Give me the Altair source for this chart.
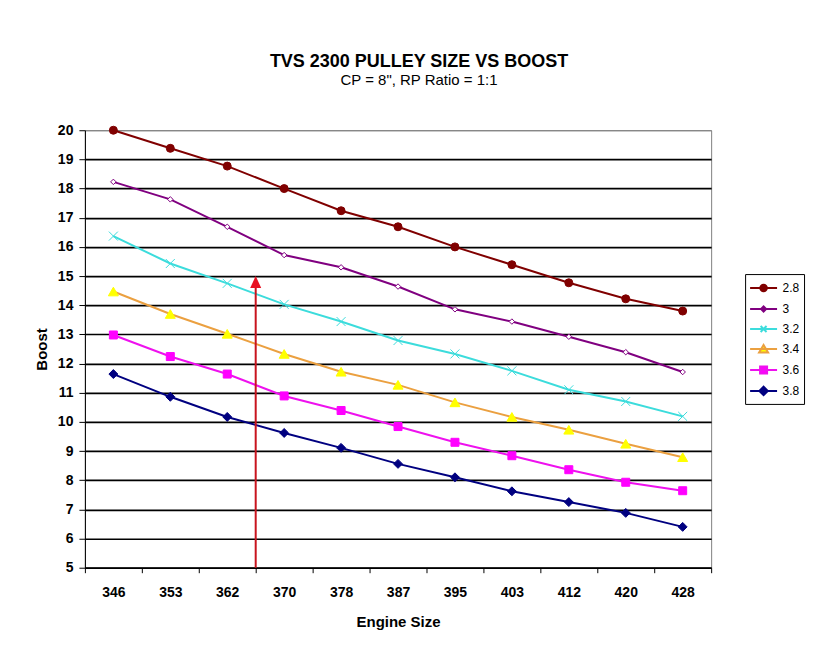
import altair as alt
import pandas as pd

# ---------------- data ----------------
engine_sizes = ["346", "353", "362", "370", "378", "387", "395", "403", "412", "420", "428"]
pulleys = ["2.8", "3", "3.2", "3.4", "3.6", "3.8"]

boost_28 = [20.0, 19.38, 18.77, 18.0, 17.24, 16.69, 16.0, 15.39, 14.77, 14.22, 13.80]
boost_30 = [18.23, 17.63, 16.69, 15.72, 15.30, 14.64, 13.86, 13.44, 12.92, 12.39, 11.71]
boost_32 = [16.37, 15.43, 14.75, 14.03, 13.44, 12.79, 12.33, 11.75, 11.10, 10.70, 10.19]
boost_34 = [14.47, 13.70, 13.02, 12.33, 11.72, 11.27, 10.67, 10.17, 9.73, 9.25, 8.79]
boost_36 = [12.98, 12.24, 11.64, 10.89, 10.39, 9.84, 9.30, 8.84, 8.36, 7.93, 7.64]
boost_38 = [11.64, 10.86, 10.17, 9.62, 9.11, 8.56, 8.10, 7.62, 7.25, 6.88, 6.40]

# red arrow: stands on the boundary after engine size 362
arrow_engine = ["362"]
arrow_base = [5.0]
arrow_top = [14.6]
arrow_head = [14.8]

series = [boost_28, boost_30, boost_32, boost_34, boost_36, boost_38]
rows = []
for p, vals in zip(pulleys, series):
    for e, v in zip(engine_sizes, vals):
        rows.append({"engine": e, "pulley": p, "boost": v})
df = pd.DataFrame(rows)

arrow_df = pd.DataFrame({"engine": arrow_engine, "y0": arrow_base, "y1": arrow_top, "yh": arrow_head})

# ---------------- styles ----------------
FONT = "Liberation Sans"
line_colors = ["#800000", "#800080", "#3CDCDC", "#EBA040", "#EE11EE", "#000080"]
marker_style = {
    "2.8": dict(shape="circle", size=64, fill="#800000", stroke="#800000"),
    "3": dict(shape="diamond", size=30, fill="white", stroke="#800080"),
    "3.2": dict(shape="M-1,-1L1,1M-1,1L1,-1", size=81, fill="transparent", stroke="#3CDCDC"),
    "3.4": dict(shape="triangle-up", size=100, fill="#FFFF00", stroke="#FFFF00"),
    "3.6": dict(shape="square", size=64, fill="#FF00FF", stroke="#FF00FF"),
    "3.8": dict(shape="diamond", size=80, fill="#000080", stroke="#000080"),
}
legend_fill = ["#800000", "white", "transparent", "#FFFF00", "#FF00FF", "#000080"]
# legend symbols: a short line with the series marker (unit = 9 px)
legend_paths = [
    "M-1.5,0H1.5M0.36,0A0.36,0.36,0,1,1,-0.36,0A0.36,0.36,0,1,1,0.36,0Z",
    "M-1.5,0H1.5M0,-0.28L0.28,0L0,0.28L-0.28,0Z",
    "M-1.5,0H1.5M-0.33,-0.33L0.33,0.33M-0.33,0.33L0.33,-0.33",
    "M-1.5,0H1.5M0,-0.45L0.5,0.39L-0.5,0.39Z",
    "M-1.5,0H1.5M-0.39,-0.39H0.39V0.39H-0.39Z",
    "M-1.5,0H1.5M0,-0.47L0.47,0L0,0.47L-0.47,0Z",
]

x_scale = alt.Scale(type="band", domain=engine_sizes, paddingInner=0, paddingOuter=0)
y_scale = alt.Scale(domain=[5, 20], nice=False, zero=False)

x_axis = alt.Axis(
    title="Engine Size", tickBand="extent", labelAngle=0, grid=False,
    labelFontSize=14, labelFontWeight="bold", labelPadding=13, tickSize=5,
    titleFontSize=15, titleFontWeight="bold", titlePadding=15,
    domainColor="black", tickColor="black", labelColor="black", titleColor="black",
)
y_axis = alt.Axis(
    title="Boost", values=list(range(5, 21)),
    labelFontSize=14, labelFontWeight="bold", labelPadding=6, tickSize=6,
    titleFontSize=15, titleFontWeight="bold", titlePadding=8,
    grid=True,
    gridColor={"condition": {"test": "datum.value === 20", "value": "#808080"}, "value": "black"},
    gridWidth={"condition": {"test": "datum.value === 20", "value": 1}, "value": 1.7},
    domainColor="black", tickColor="black", labelColor="black", titleColor="black",
)

X = alt.X("engine:O", scale=x_scale, axis=x_axis)
Y = alt.Y("boost:Q", scale=y_scale, axis=y_axis)

stroke_scale = alt.Scale(domain=pulleys, range=line_colors)

legend_props = dict(
    title=None, orient="none", legendX=661, legendY=144, padding=4,
    rowPadding=3, symbolOffset=4.5, labelOffset=9, labelFontSize=12, labelFont=FONT,
    labelColor="black", strokeColor="black", fillColor="white",
    symbolSize=324, symbolStrokeWidth=2, symbolOpacity=1,
)

# legend carrier layer: invisible marks, legend symbols made opaque again
legend_layer = alt.Chart(df).mark_point(filled=True, strokeWidth=2, opacity=0).encode(
    x=X, y=Y,
    fill=alt.Fill("pulley:N", scale=alt.Scale(domain=pulleys, range=legend_fill), legend=alt.Legend(**legend_props)),
    stroke=alt.Stroke("pulley:N", scale=stroke_scale, legend=alt.Legend(**legend_props)),
    shape=alt.Shape("pulley:N", scale=alt.Scale(domain=pulleys, range=legend_paths), legend=alt.Legend(**legend_props)),
)

lines = alt.Chart(df).mark_line(strokeWidth=2).encode(
    x=X, y=Y,
    stroke=alt.Stroke("pulley:N", scale=stroke_scale, legend=None),
    detail="pulley:N",
)

marker_layers = []
for p in pulleys:
    st = marker_style[p]
    marker_layers.append(
        alt.Chart(df).transform_filter(alt.datum.pulley == p).mark_point(
            shape=st["shape"], size=st["size"], fill=st["fill"], stroke=st["stroke"],
            strokeWidth=1, opacity=1, filled=False, fillOpacity=1,
        ).encode(x=X, y=Y)
    )

arrow_shaft = alt.Chart(arrow_df).mark_rule(color="#C8141E", strokeWidth=2).encode(
    x=alt.X("engine:O", scale=x_scale, axis=x_axis, bandPosition=1),
    y=alt.Y("y0:Q", scale=y_scale, axis=y_axis),
    y2="y1:Q",
)
arrow_tip = alt.Chart(arrow_df).mark_point(
    shape="M0,-1L0.92,1L-0.92,1Z", size=144, filled=True, color="#E81020", opacity=1,
).encode(
    x=alt.X("engine:O", scale=x_scale, axis=x_axis, bandPosition=1),
    y=alt.Y("yh:Q", scale=y_scale, axis=y_axis),
)

chart = alt.layer(legend_layer, lines, *marker_layers, arrow_shaft, arrow_tip).properties(
    width=627,
    height=438,
    autosize=alt.AutoSizeParams(type="none"),
    padding={"left": 77, "top": 122, "right": 120, "bottom": 80},
    title=alt.TitleParams(
        text="TVS 2300 PULLEY SIZE VS BOOST",
        subtitle='CP = 8", RP Ratio = 1:1',
        font=FONT, fontSize=18, fontWeight="bold", color="black",
        subtitleFont=FONT, subtitleFontSize=15, subtitleColor="black",
        subtitlePadding=2, anchor="middle", offset=35, dx=21,
    ),
).configure(
    font=FONT, background="white",
).configure_view(
    stroke="#808080", strokeWidth=1, fill="white",
)

chart.save("out.html", embed_options={"renderer": "svg", "actions": False})
